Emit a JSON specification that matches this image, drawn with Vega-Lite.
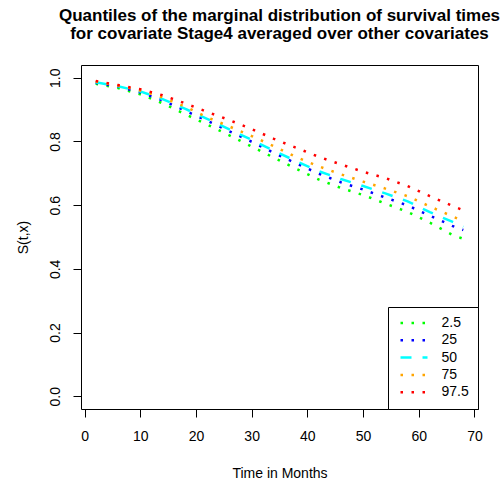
{
  "$schema": "https://vega.github.io/schema/vega-lite/v6.json",
  "autosize": "none",
  "width": 397,
  "height": 344,
  "padding": {"left": 81, "top": 65, "right": 25, "bottom": 70},
  "background": "white",
  "config": {
    "font": "Liberation Sans",
    "view": {"stroke": "black", "strokeWidth": 1}
  },
  "title": {
    "text": ["Quantiles of the marginal distribution of survival times", "for covariate Stage4 averaged over other covariates"],
    "fontSize": 17,
    "fontWeight": "bold",
    "font": "Liberation Sans",
    "color": "black",
    "anchor": "middle",
    "lineHeight": 18.5,
    "offset": 22
  },
  "data": {
    "values": [
      {"t": 2, "S": 0.981, "q": "2.5"}, {"t": 6, "S": 0.968, "q": "2.5"}, {"t": 10, "S": 0.948, "q": "2.5"}, {"t": 14, "S": 0.920, "q": "2.5"}, {"t": 18, "S": 0.886, "q": "2.5"}, {"t": 22, "S": 0.853, "q": "2.5"}, {"t": 26, "S": 0.819, "q": "2.5"}, {"t": 30, "S": 0.784, "q": "2.5"}, {"t": 34, "S": 0.749, "q": "2.5"}, {"t": 38, "S": 0.714, "q": "2.5"}, {"t": 42, "S": 0.681, "q": "2.5"}, {"t": 46, "S": 0.654, "q": "2.5"}, {"t": 50, "S": 0.632, "q": "2.5"}, {"t": 54, "S": 0.605, "q": "2.5"}, {"t": 58, "S": 0.579, "q": "2.5"}, {"t": 62, "S": 0.545, "q": "2.5"}, {"t": 66, "S": 0.507, "q": "2.5"}, {"t": 68, "S": 0.494, "q": "2.5"},
      {"t": 2, "S": 0.984, "q": "25"}, {"t": 6, "S": 0.972, "q": "25"}, {"t": 10, "S": 0.954, "q": "25"}, {"t": 14, "S": 0.929, "q": "25"}, {"t": 18, "S": 0.897, "q": "25"}, {"t": 22, "S": 0.865, "q": "25"}, {"t": 26, "S": 0.832, "q": "25"}, {"t": 30, "S": 0.799, "q": "25"}, {"t": 34, "S": 0.764, "q": "25"}, {"t": 38, "S": 0.731, "q": "25"}, {"t": 42, "S": 0.699, "q": "25"}, {"t": 46, "S": 0.672, "q": "25"}, {"t": 50, "S": 0.649, "q": "25"}, {"t": 54, "S": 0.624, "q": "25"}, {"t": 58, "S": 0.599, "q": "25"}, {"t": 62, "S": 0.567, "q": "25"}, {"t": 66, "S": 0.535, "q": "25"}, {"t": 68, "S": 0.522, "q": "25"},
      {"t": 2, "S": 0.986, "q": "50"}, {"t": 6, "S": 0.973, "q": "50"}, {"t": 10, "S": 0.957, "q": "50"}, {"t": 14, "S": 0.933, "q": "50"}, {"t": 18, "S": 0.903, "q": "50"}, {"t": 22, "S": 0.871, "q": "50"}, {"t": 26, "S": 0.838, "q": "50"}, {"t": 30, "S": 0.805, "q": "50"}, {"t": 34, "S": 0.771, "q": "50"}, {"t": 38, "S": 0.738, "q": "50"}, {"t": 42, "S": 0.707, "q": "50"}, {"t": 46, "S": 0.682, "q": "50"}, {"t": 50, "S": 0.660, "q": "50"}, {"t": 54, "S": 0.637, "q": "50"}, {"t": 58, "S": 0.612, "q": "50"}, {"t": 62, "S": 0.578, "q": "50"}, {"t": 66, "S": 0.548, "q": "50"}, {"t": 68, "S": 0.532, "q": "50"},
      {"t": 2, "S": 0.988, "q": "75"}, {"t": 6, "S": 0.975, "q": "75"}, {"t": 10, "S": 0.960, "q": "75"}, {"t": 14, "S": 0.938, "q": "75"}, {"t": 18, "S": 0.910, "q": "75"}, {"t": 22, "S": 0.876, "q": "75"}, {"t": 26, "S": 0.847, "q": "75"}, {"t": 30, "S": 0.817, "q": "75"}, {"t": 34, "S": 0.785, "q": "75"}, {"t": 38, "S": 0.751, "q": "75"}, {"t": 42, "S": 0.722, "q": "75"}, {"t": 46, "S": 0.697, "q": "75"}, {"t": 50, "S": 0.674, "q": "75"}, {"t": 54, "S": 0.652, "q": "75"}, {"t": 58, "S": 0.628, "q": "75"}, {"t": 62, "S": 0.596, "q": "75"}, {"t": 66, "S": 0.565, "q": "75"}, {"t": 68, "S": 0.550, "q": "75"},
      {"t": 2, "S": 0.990, "q": "97.5"}, {"t": 6, "S": 0.977, "q": "97.5"}, {"t": 10, "S": 0.964, "q": "97.5"}, {"t": 14, "S": 0.945, "q": "97.5"}, {"t": 18, "S": 0.920, "q": "97.5"}, {"t": 22, "S": 0.893, "q": "97.5"}, {"t": 26, "S": 0.867, "q": "97.5"}, {"t": 30, "S": 0.839, "q": "97.5"}, {"t": 34, "S": 0.808, "q": "97.5"}, {"t": 38, "S": 0.780, "q": "97.5"}, {"t": 42, "S": 0.752, "q": "97.5"}, {"t": 46, "S": 0.728, "q": "97.5"}, {"t": 50, "S": 0.705, "q": "97.5"}, {"t": 54, "S": 0.685, "q": "97.5"}, {"t": 58, "S": 0.660, "q": "97.5"}, {"t": 62, "S": 0.628, "q": "97.5"}, {"t": 66, "S": 0.598, "q": "97.5"}, {"t": 68, "S": 0.584, "q": "97.5"}
    ]
  },
  "mark": {"type": "line", "strokeWidth": 2.5, "strokeCap": "butt"},
  "encoding": {
    "x": {
      "field": "t", "type": "quantitative",
      "scale": {"domain": [-0.64, 70.64], "nice": false, "zero": false},
      "axis": {
        "values": [0, 10, 20, 30, 40, 50, 60, 70],
        "title": "Time in Months",
        "grid": false, "domain": false,
        "tickColor": "black", "tickSize": 8, "tickWidth": 1,
        "labelFontSize": 14, "labelColor": "black", "labelPadding": 12,
        "labelFlush": false, "labelOverlap": false,
        "titleFontSize": 14, "titleFontWeight": "normal", "titleColor": "black", "titlePadding": 23
      }
    },
    "y": {
      "field": "S", "type": "quantitative",
      "scale": {"domain": [-0.04, 1.04], "nice": false, "zero": false},
      "axis": {
        "values": [0, 0.2, 0.4, 0.6, 0.8, 1.0],
        "format": ".1f",
        "title": "S(t,x)",
        "grid": false, "domain": false,
        "tickColor": "black", "tickSize": 8, "tickWidth": 1,
        "labelAngle": -90, "labelAlign": "center", "labelBaseline": "alphabetic",
        "labelFontSize": 14, "labelColor": "black", "labelPadding": 14,
        "labelFlush": false, "labelOverlap": false,
        "titleFontSize": 14, "titleFontWeight": "normal", "titleColor": "black", "titlePadding": 18
      }
    },
    "color": {
      "field": "q", "type": "nominal",
      "scale": {"domain": ["2.5", "25", "50", "75", "97.5"], "range": ["#00FF00", "#0000FF", "#00FFFF", "#FFA500", "#FF0000"]},
      "legend": {
        "title": null, "orient": "bottom-right", "offset": 0,
        "symbolType": "stroke", "symbolSize": 729, "symbolStrokeWidth": 2.5, "symbolOffset": 2,
        "labelFontSize": 14, "labelColor": "black", "labelOffset": 12.5, "labelFont": "Liberation Sans",
        "clipHeight": 14, "rowPadding": 3.3, "padding": 9,
        "strokeColor": "black", "fillColor": "white", "cornerRadius": 0
      }
    },
    "strokeDash": {
      "field": "q", "type": "nominal",
      "scale": {"domain": ["2.5", "25", "50", "75", "97.5"], "range": [[2.5, 8.5], [2.5, 8.5], [11, 11], [2.5, 8.5], [2.5, 8.5]]},
      "legend": {
        "title": null, "orient": "bottom-right", "offset": 0,
        "symbolType": "stroke", "symbolSize": 729, "symbolStrokeWidth": 2.5, "symbolOffset": 2,
        "labelFontSize": 14, "labelColor": "black", "labelOffset": 12.5, "labelFont": "Liberation Sans",
        "clipHeight": 14, "rowPadding": 3.3, "padding": 9,
        "strokeColor": "black", "fillColor": "white", "cornerRadius": 0
      }
    }
  }
}
